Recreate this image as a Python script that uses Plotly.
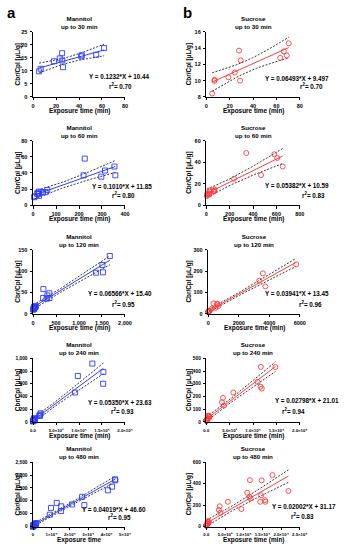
import numpy as np
import plotly.graph_objects as go

# ---------------- DATA ----------------
# Mannitol: points added at each exposure window (cumulative sets)
man_x_30 = [5.3, 6.7, 18.2, 23.3, 25.3, 25.5, 26.1, 42.0, 42.4, 55.0, 61.8]
man_y_30 = [9.8, 10.8, 13.7, 14.8, 16.8, 14.0, 11.4, 15.6, 16.0, 16.2, 18.8]
man_x_60 = [220, 225, 297, 313, 354, 358]
man_y_60 = [37.0, 57.8, 35.3, 43.0, 48.0, 37.0]
man_x_120 = [1368, 1509, 1523, 1670]
man_y_120 = [96, 114, 97, 135]
man_x_240 = [9120, 9750, 12900, 15300, 15250]
man_y_240 = [462, 723, 918, 785, 600]
man_x_480 = [21230, 26670, 27900, 40700, 43000, 44560, 44740]
man_y_480 = [859, 1154, 833, 1410, 1551, 1833, 1800]

# Sucrose
suc_x_30 = [5.0, 6.9, 7.2, 18.9, 24.4, 28.0, 29.4, 28.9, 63.3, 66.4, 68.9, 70.6]
suc_y_30 = [8.4, 9.97, 10.1, 10.4, 11.0, 13.7, 12.5, 10.0, 12.8, 13.6, 13.1, 14.6]
suc_x_60 = [237, 342, 469, 582, 607, 654]
suc_y_60 = [24.6, 48.6, 28.0, 47.4, 44.0, 36.0]
suc_x_120 = [3347, 3579, 3747, 5768]
suc_y_120 = [155, 189, 128, 231]
suc_x_240 = [10970, 11670, 11600, 11870, 14800]
suc_y_240 = [315, 433, 277, 262, 431]
suc_x_480 = [9375, 14410, 14670, 15712, 15800, 17708, 21962]
suc_y_480 = [163, 231, 292, 246, 231, 480, 332]

windows = ["30", "60", "120", "240", "480"]

man_slope = ["0.1232", "0.1010", "0.06566", "0.05350", "0.04019"]
man_icpt = ["10.44", "11.85", "15.40", "23.63", "46.60"]
man_r2 = ["0.70", "0.80", "0.95", "0.93", "0.95"]
suc_slope = ["0.06493", "0.05382", "0.03941", "0.02798", "0.02002"]
suc_icpt = ["9.497", "10.59", "13.45", "21.01", "31.17"]
suc_r2 = ["0.70", "0.83", "0.96", "0.94", "0.83"]

# axis ticks
man_xticks = [[0, 20, 40, 60, 80], [0, 100, 200, 300, 400], [0, 500, 1000, 1500, 2000],
              [0, 5000, 10000, 15000, 20000], [0, 10000, 20000, 30000, 40000, 50000]]
man_xtext = [["0", "20", "40", "60", "80"], ["0", "100", "200", "300", "400"],
             ["0", "500", "1,000", "1,500", "2,000"],
             ["0.0", "5.0×10³", "1.0×10⁴", "1.5×10⁴", "2.0×10⁴"],
             ["0", "1×10⁴", "2×10⁴", "3×10⁴", "4×10⁴", "5×10⁴"]]
man_yticks = [[0, 5, 10, 15, 20, 25], [0, 20, 40, 60, 80], [0, 50, 100, 150],
              [0, 200, 400, 600, 800, 1000], [0, 500, 1000, 1500, 2000, 2500]]
man_ytext = [["0", "5", "10", "15", "20", "25"], ["0", "20", "40", "60", "80"],
             ["0", "50", "100", "150"], ["0", "200", "400", "600", "800", "1,000"],
             ["0", "500", "1,000", "1,500", "2,000", "2,500"]]
suc_xticks = [[0, 20, 40, 60, 80], [0, 200, 400, 600, 800], [0, 2000, 4000, 6000],
              [0, 5000, 10000, 15000, 20000], [0, 5000, 10000, 15000, 20000, 25000]]
suc_xtext = [["0", "20", "40", "60", "80"], ["0", "200", "400", "600", "800"],
             ["0", "2000", "4000", "6000"],
             ["0.0", "5.0×10³", "1.0×10⁴", "1.5×10⁴", "2.0×10⁴"],
             ["0.0", "5.0×10³", "1.0×10⁴", "1.5×10⁴", "2.0×10⁴", "2.5×10⁴"]]
suc_yticks = [[8, 10, 12, 14, 16], [0, 20, 40, 60], [0, 100, 200, 300],
              [0, 100, 200, 300, 400, 500], [0, 200, 400, 600]]
suc_ytext = [["8", "10", "12", "14", "16"], ["0", "20", "40", "60"], ["0", "100", "200", "300"],
             ["0", "100", "200", "300", "400", "500"], ["0", "200", "400", "600"]]

# ---------------- LAYOUT GEOMETRY (px) ----------------
W, H = 346, 550
col_px = [(31, 126), (210, 306.5)]
row_px = [(29.3, 94.8), (139.3, 204.3), (249.3, 314.3), (359.3, 423.5), (464.3, 529.3)]
man_eq_pos = [(120, 74), (123, 186), (121, 294), (121, 404), (115, 512)]
man_r2_pos = [(121, 84), (124, 194), (124, 304), (123, 413), (120, 520)]
suc_eq_pos = [(304, 76), (304, 185), (304, 294), (314, 402), (311, 509)]
suc_r2_pos = [(319, 84), (321, 194), (318, 304), (300, 413), (309, 519)]

BLUE = "#2E3CFF"
RED = "#FF3C3C"
FONT = "Liberation Sans, Arial, sans-serif"


def px_x(p):
    return p / W


def px_y(p):
    return 1 - p / H


def t975(nu):
    z = 1.959964
    g1 = (z**3 + z) / 4
    g2 = (5 * z**5 + 16 * z**3 + 3 * z) / 96
    g3 = (3 * z**7 + 19 * z**5 + 17 * z**3 - 15 * z) / 384
    g4 = (79 * z**9 + 776 * z**7 + 1482 * z**5 - 1920 * z**3 - 945 * z) / 92160
    return z + g1 / nu + g2 / nu**2 + g3 / nu**3 + g4 / nu**4


def cumulative(parts_x, parts_y):
    xs, ys, out = [], [], []
    for px_, py_ in zip(parts_x, parts_y):
        xs = xs + list(px_)
        ys = ys + list(py_)
        out.append((np.array(xs, float), np.array(ys, float)))
    return out


man_sets = cumulative([man_x_30, man_x_60, man_x_120, man_x_240, man_x_480],
                      [man_y_30, man_y_60, man_y_120, man_y_240, man_y_480])
suc_sets = cumulative([suc_x_30, suc_x_60, suc_x_120, suc_x_240, suc_x_480],
                      [suc_y_30, suc_y_60, suc_y_120, suc_y_240, suc_y_480])

fig = go.Figure()
annotations = []
layout_axes = {}

panels = []
for r in range(5):
    panels.append(("Mannitol", 0, r, man_sets[r], man_slope[r], man_icpt[r], man_r2[r],
                   man_xticks[r], man_xtext[r], man_yticks[r], man_ytext[r],
                   man_eq_pos[r], man_r2_pos[r], "square-open", BLUE))
    panels.append(("Sucrose", 1, r, suc_sets[r], suc_slope[r], suc_icpt[r], suc_r2[r],
                   suc_xticks[r], suc_xtext[r], suc_yticks[r], suc_ytext[r],
                   suc_eq_pos[r], suc_r2_pos[r], "circle-open", RED))

for i, (name, c, r, (x, y), sl, ic, r2, xt, xtt, yt, ytt, eqp, r2p, sym, col) in enumerate(panels):
    k = i + 1
    xa = "x" if k == 1 else f"x{k}"
    ya = "y" if k == 1 else f"y{k}"
    m = float(sl)
    b = float(ic)
    n = len(x)
    xs = np.linspace(x.min(), x.max(), 60)
    fit = m * xs + b
    res = y - (m * x + b)
    s = np.sqrt(np.sum(res**2) / (n - 2))
    xbar = x.mean()
    sxx = np.sum((x - xbar) ** 2)
    half = t975(n - 2) * s * np.sqrt(1 / n + (xs - xbar) ** 2 / sxx)

    for band in (fit + half, fit - half):
        fig.add_trace(go.Scatter(x=xs, y=band, mode="lines", xaxis=xa, yaxis=ya,
                                 line=dict(color="black", width=0.8, dash="2px,1.5px"),
                                 hoverinfo="skip", showlegend=False))
    fig.add_trace(go.Scatter(x=xs, y=fit, mode="lines", xaxis=xa, yaxis=ya,
                             line=dict(color=col, width=1), showlegend=False))
    fig.add_trace(go.Scatter(x=x, y=y, mode="markers", xaxis=xa, yaxis=ya, cliponaxis=False,
                             marker=dict(symbol=sym, size=5, color=col, line=dict(width=0.9, color=col)),
                             showlegend=False))

    x0, x1 = col_px[c]
    if c == 1 and r == 2:
        x0 = 212
    y0, y1 = row_px[r]
    xfs = 4.3 if r >= 3 else 5.5
    axcommon = dict(showline=True, linecolor="black", linewidth=1, ticks="outside",
                    ticklen=2.5, tickwidth=0.9, tickcolor="black", showgrid=False,
                    zeroline=False, tickmode="array", tickangle=0)
    xkey = "xaxis" if k == 1 else f"xaxis{k}"
    ykey = "yaxis" if k == 1 else f"yaxis{k}"
    layout_axes[xkey] = dict(axcommon, domain=[px_x(x0), px_x(x1)], range=[xt[0], xt[-1]],
                             tickvals=xt, ticktext=xtt, anchor=ya, ticklabelstandoff=1,
                             tickfont=dict(family=FONT, size=xfs, color="black", weight="bold"))
    layout_axes[ykey] = dict(axcommon, domain=[px_y(y1), px_y(y0)], range=[yt[0], yt[-1]],
                             tickvals=yt, ticktext=ytt, anchor=xa, ticklabelstandoff=1,
                             tickfont=dict(family=FONT, size=5.5 if r < 3 else 4.8,
                                           color="black", weight="bold"))

    cx = (x0 + x1) / 2
    # subplot title
    annotations.append(dict(text=f"<b>{name}<br>up to {windows[r]} min</b>", x=px_x(cx),
                            y=px_y(y0 - 9.5), xref="paper", yref="paper", showarrow=False,
                            xanchor="center", yanchor="middle",
                            font=dict(family=FONT, size=6.2, color="black")))
    # x title
    xtitle = "Exposure time" if (c == 0 and r == 4) else "Exposure time (min)"
    annotations.append(dict(text=f"<b>{xtitle}</b>", x=px_x(cx), y=px_y(y1 + 14),
                            xref="paper", yref="paper", showarrow=False,
                            xanchor="center", yanchor="middle",
                            font=dict(family=FONT, size=6.4, color="black")))
    # y title
    ytx = 15.5 if c == 0 else 192
    annotations.append(dict(text="<b>Cbr/Cpl [µL/g]</b>", x=px_x(ytx), y=px_y((y0 + y1) / 2),
                            xref="paper", yref="paper", showarrow=False, textangle=-90,
                            xanchor="center", yanchor="middle",
                            font=dict(family=FONT, size=6.4, color="black")))
    # equation & r2
    annotations.append(dict(text=f"<b>Y = {sl}*X + {ic}</b>", x=px_x(eqp[0]), y=px_y(eqp[1]),
                            xref="paper", yref="paper", showarrow=False,
                            xanchor="center", yanchor="middle",
                            font=dict(family=FONT, size=6.3, color="black")))
    annotations.append(dict(text=f"<b>r<sup>2</sup>= {r2}</b>", x=px_x(r2p[0]), y=px_y(r2p[1]),
                            xref="paper", yref="paper", showarrow=False,
                            xanchor="center", yanchor="middle",
                            font=dict(family=FONT, size=6.3, color="black")))

annotations.append(dict(text="<b>a</b>", x=px_x(9), y=px_y(9.5), xref="paper", yref="paper",
                        showarrow=False, xanchor="center", yanchor="middle",
                        font=dict(family=FONT, size=15, color="black")))
annotations.append(dict(text="<b>b</b>", x=px_x(191), y=px_y(9.5), xref="paper", yref="paper",
                        showarrow=False, xanchor="center", yanchor="middle",
                        font=dict(family=FONT, size=15, color="black")))

fig.update_layout(width=W, height=H, autosize=False, margin=dict(l=0, r=0, t=0, b=0),
                  paper_bgcolor="white", plot_bgcolor="white", showlegend=False,
                  annotations=annotations, **layout_axes)

fig.write_html("out.html", config={"displayModeBar": False},
               post_script="document.body.style.margin='0';document.body.style.overflow='hidden';")
